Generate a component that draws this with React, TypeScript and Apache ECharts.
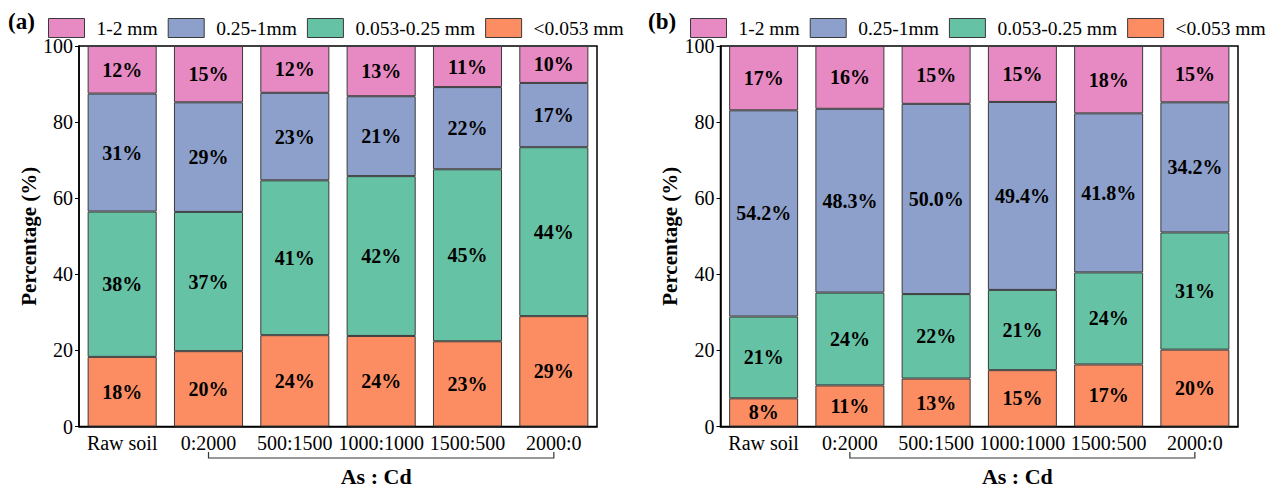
import React, { useEffect, useRef } from "react";
import * as echarts from "echarts";

const categories = ["Raw soil", "0:2000", "500:1500", "1000:1000", "1500:500", "2000:0"];
const seriesNames = ["<0.053 mm", "0.053-0.25 mm", "0.25-1mm", "1-2 mm"];
const legendOrder = ["1-2 mm", "0.25-1mm", "0.053-0.25 mm", "<0.053 mm"];
const colors = ["#FC8D62", "#66C2A5", "#8DA0CB", "#E78AC3"];

// Panel (a)
const aFine = [18.3, 19.8, 24.0, 23.8, 22.4, 29.0];
const aSilt = [38.2, 36.6, 40.7, 42.0, 45.2, 44.4];
const aMacro = [31.0, 28.8, 23.0, 21.0, 21.6, 16.9];
const aLarge = [12.5, 14.8, 12.3, 13.2, 10.8, 9.7];
const aFineLbl = ["18%", "20%", "24%", "24%", "23%", "29%"];
const aSiltLbl = ["38%", "37%", "41%", "42%", "45%", "44%"];
const aMacroLbl = ["31%", "29%", "23%", "21%", "22%", "17%"];
const aLargeLbl = ["12%", "15%", "12%", "13%", "11%", "10%"];

// Panel (b)
const bFine = [7.4, 10.8, 12.6, 14.8, 16.3, 20.2];
const bSilt = [21.5, 24.4, 22.2, 21.1, 24.2, 30.8];
const bMacro = [54.2, 48.3, 50.0, 49.4, 41.8, 34.2];
const bLarge = [16.9, 16.5, 15.2, 14.7, 17.7, 14.8];
const bFineLbl = ["8%", "11%", "13%", "15%", "17%", "20%"];
const bSiltLbl = ["21%", "24%", "22%", "21%", "24%", "31%"];
const bMacroLbl = ["54.2%", "48.3%", "50.0%", "49.4%", "41.8%", "34.2%"];
const bLargeLbl = ["17%", "16%", "15%", "15%", "18%", "15%"];

const yTicks = [0, 20, 40, 60, 80, 100];

const FONT = "'Liberation Serif', 'Times New Roman', serif";

export default function App() {
  const ref = useRef<HTMLDivElement>(null);
  useEffect(() => {
    if (!ref.current) return;
    const chart = echarts.init(ref.current, null, { renderer: "svg" });

    const panels = [
      { vals: [aFine, aSilt, aMacro, aLarge], lbls: [aFineLbl, aSiltLbl, aMacroLbl, aLargeLbl] },
      { vals: [bFine, bSilt, bMacro, bLarge], lbls: [bFineLbl, bSiltLbl, bMacroLbl, bLargeLbl] },
    ];

    const series: any[] = [];
    panels.forEach((p, gi) => {
      p.vals.forEach((vals, si) => {
        const lbls = p.lbls[si];
        series.push({
          type: "bar",
          name: seriesNames[si],
          xAxisIndex: gi,
          yAxisIndex: gi,
          stack: "s" + gi,
          data: vals,
          barCategoryGap: "20%",
          itemStyle: { color: colors[si], borderColor: "#3a3a3a", borderWidth: 1 },
          label: {
            show: true,
            position: "inside",
            formatter: (prm: any) => lbls[prm.dataIndex],
            color: "#000",
            fontWeight: "bold",
            fontSize: 20,
            fontFamily: FONT,
          },
          emphasis: { disabled: true },
        });
      });
    });

    const grids = [
      { left: 79, top: 46, width: 518, height: 380.5 },
      { left: 720.5, top: 46, width: 517.5, height: 380.5 },
    ];

    const xAxis = grids.map((_, i) => ({
      type: "category",
      gridIndex: i,
      data: categories,
      axisLine: { lineStyle: { color: "#000", width: 1.5 } },
      axisTick: { show: true, inside: true, alignWithLabel: true, length: 5, lineStyle: { color: "#000" } },
      axisLabel: { color: "#000", fontSize: 20, fontFamily: FONT, margin: 6, interval: 0 },
    }));

    const yAxis = grids.map((_, i) => ({
      type: "value",
      gridIndex: i,
      min: yTicks[0],
      max: yTicks[yTicks.length - 1],
      interval: 20,
      name: "Percentage (%)",
      nameLocation: "middle",
      nameGap: 36,
      nameTextStyle: { color: "#000", fontSize: 21, fontWeight: "bold", fontFamily: FONT },
      splitLine: { show: false },
      axisLine: { show: true, lineStyle: { color: "#000", width: 1.5 } },
      axisTick: { show: true, inside: false, length: 4, lineStyle: { color: "#000" } },
      axisLabel: { color: "#000", fontSize: 20, fontFamily: FONT, margin: 6 },
    }));

    const legends = [43, 685].map((left) => ({
      left,
      top: 13,
      data: legendOrder,
      itemWidth: 36,
      itemHeight: 19,
      itemGap: 10,
      selectedMode: false,
      icon: "rect",
      itemStyle: { borderColor: "#3a3a3a", borderWidth: 1 },
      textStyle: { color: "#000", fontSize: 19.5, fontFamily: FONT, padding: [0, 0, 0, 7] },
    }));

    chart.setOption({
      animation: false,
      backgroundColor: "#fff",
      grid: grids.map((g) => ({ ...g, show: true, borderColor: "#000", borderWidth: 1.5, backgroundColor: "transparent" })),
      legend: legends,
      xAxis,
      yAxis,
      series,
    });

    const graphic: any[] = [
      { type: "text", left: 8, top: 10, style: { text: "(a)", font: `bold 23px ${FONT}`, fill: "#000" } },
      { type: "text", left: 648, top: 10, style: { text: "(b)", font: `bold 23px ${FONT}`, fill: "#000" } },
    ];
    [0, 1].forEach((gi) => {
      const x1 = chart.convertToPixel({ xAxisIndex: gi }, categories[1]) as number;
      const x2 = chart.convertToPixel({ xAxisIndex: gi }, categories[categories.length - 1]) as number;
      graphic.push({
        type: "polyline",
        shape: { points: [[x1, 452], [x1, 458], [x2, 458], [x2, 452]] },
        style: { stroke: "#333", lineWidth: 1.2, fill: null },
      });
      graphic.push({
        type: "text",
        x: (x1 + x2) / 2 - 5,
        y: 476,
        style: { text: "As : Cd", font: `bold 22px ${FONT}`, fill: "#000", align: "center", verticalAlign: "middle" },
      });
    });
    chart.setOption({ graphic });

    return () => chart.dispose();
  }, []);
  return <div ref={ref} style={{ position: "fixed", left: 0, top: 0, width: 1272, height: 489 }} />;
}
